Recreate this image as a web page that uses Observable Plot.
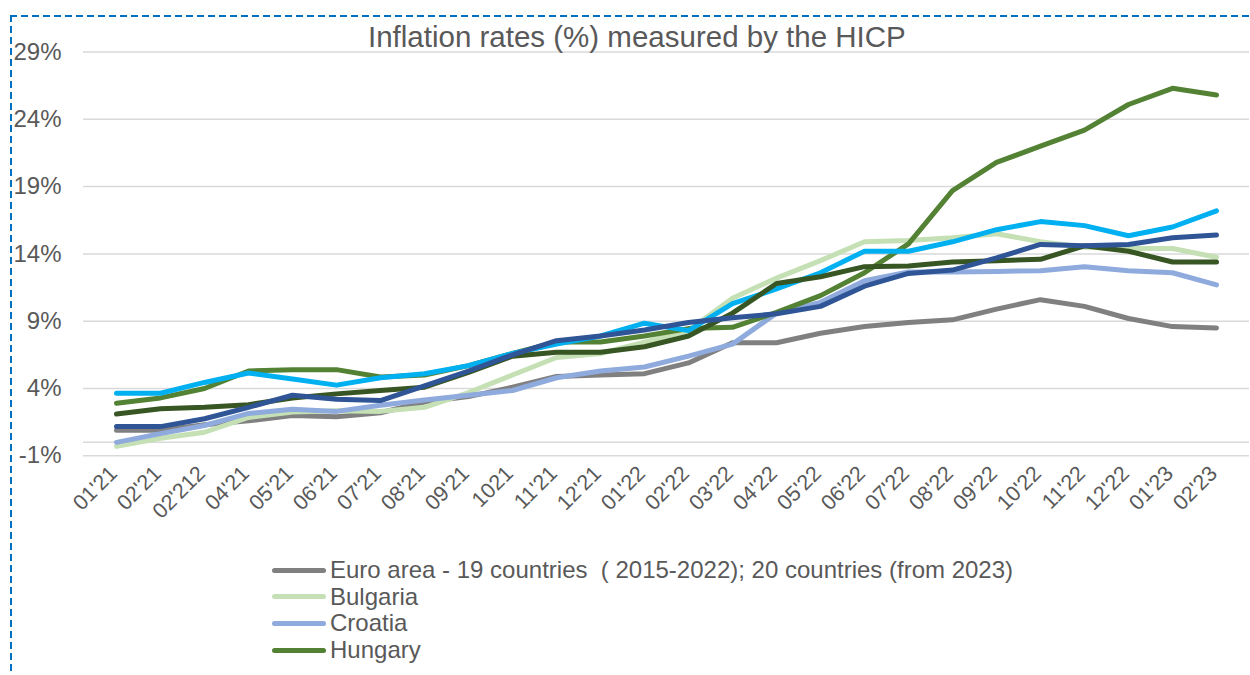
<!DOCTYPE html>
<html><head><meta charset="utf-8">
<script src="https://cdn.jsdelivr.net/npm/d3@7"></script>
<script src="https://cdn.jsdelivr.net/npm/@observablehq/plot@0.6"></script>
<style>
body{margin:0;background:#fff;font-family:"Liberation Sans",Arial,sans-serif;}
#wrap{position:relative;width:1250px;height:675px;overflow:hidden;background:#fff;}
#chart{position:absolute;left:0;top:0;}
#title{position:absolute;left:368px;top:22px;font-size:29.5px;line-height:29.5px;color:#595959;white-space:nowrap;}
#legend{position:absolute;left:272px;top:557px;color:#595959;font-size:24px;}
.row{display:flex;align-items:center;height:26.6px;white-space:pre;}
.sw{width:54px;height:5px;border-radius:3px;margin-right:4px;}
.bt{position:absolute;left:10px;top:15px;width:1240px;height:2px;background:repeating-linear-gradient(to right,#0070C0 0 7px,transparent 7px 11px);}
.bl{position:absolute;left:10px;top:15px;width:2px;height:660px;background:repeating-linear-gradient(to bottom,#0070C0 0 7px,transparent 7px 11px);}
</style></head>
<body>
<div id="wrap">
  <div id="chart"></div>
  <div id="title">Inflation rates (%) measured by the HICP</div>
  <div id="legend"></div>
  <div class="bt"></div><div class="bl"></div>
</div>
<script>
const months = ["01'21","02'21","02'212","04'21","05'21","06'21","07'21","08'21","09'21","1021","11'21","12'21","01'22","02'22","03'22","04'22","05'22","06'22","07'22","08'22","09'22","10'22","11'22","12'22","01'23","02'23"];
const euroArea = [0.9,0.9,1.3,1.6,2.0,1.9,2.2,3.0,3.4,4.1,4.9,5.0,5.1,5.9,7.4,7.4,8.1,8.6,8.9,9.1,9.9,10.6,10.1,9.2,8.6,8.5];
const bulgaria = [-0.3,0.3,0.75,1.85,2.25,2.35,2.3,2.6,3.7,5.0,6.3,6.6,7.45,8.3,10.7,12.2,13.5,14.9,15.0,15.2,15.5,14.9,14.5,14.4,14.4,13.75];
const croatia = [0.0,0.65,1.25,2.15,2.45,2.3,2.75,3.15,3.5,3.85,4.8,5.3,5.6,6.4,7.3,9.6,10.4,12.0,12.65,12.65,12.7,12.75,13.05,12.75,12.6,11.7];
const hungary = [2.9,3.3,4.0,5.3,5.4,5.4,4.85,5.0,5.7,6.6,7.45,7.45,7.9,8.45,8.55,9.65,10.9,12.6,14.75,18.7,20.8,22.0,23.2,25.1,26.3,25.8];
const poland = [3.65,3.65,4.45,5.15,4.7,4.25,4.8,5.1,5.7,6.6,7.3,7.9,8.85,8.3,10.3,11.4,12.6,14.2,14.2,14.9,15.8,16.4,16.1,15.35,16.0,17.2];
const romania = [2.1,2.5,2.6,2.8,3.3,3.6,3.85,4.1,5.2,6.4,6.7,6.7,7.1,7.9,9.6,11.8,12.3,13.05,13.1,13.4,13.5,13.6,14.6,14.2,13.4,13.4];
const seriesSeven = [1.17,1.17,1.75,2.6,3.5,3.2,3.1,4.2,5.3,6.5,7.55,7.9,8.35,8.9,9.25,9.55,10.1,11.6,12.55,12.8,13.7,14.7,14.6,14.7,15.2,15.4];

const seriesNames = ["Euro area - 19 countries  ( 2015-2022); 20 countries (from 2023)","Bulgaria","Croatia","Hungary","Poland","Romania","Series 7"];
const seriesValues = [euroArea,bulgaria,croatia,hungary,poland,romania,seriesSeven];
const seriesColors = ["#808080","#C5E0B4","#8FAADC","#548235","#00B0F0","#375623","#2F5597"];
const legendCount = 4;
const yTicks = [-1,4,9,14,19,24,29];

const rows = [];
seriesNames.forEach((name,s)=>seriesValues[s].forEach((v,i)=>rows.push({series:name,month:months[i],value:v})));

const chart = Plot.plot({
  width:1250, height:545,
  marginLeft:83, marginRight:1, marginTop:51.5, marginBottom:89.7,
  style:{fontFamily:'"Liberation Sans",Arial,sans-serif',color:"#595959",background:"transparent"},
  x:{type:"point",domain:months,padding:0.5,axis:null},
  y:{domain:[-1,29],axis:null},
  color:{domain:seriesNames,range:seriesColors},
  marks:[
    Plot.ruleY(yTicks.concat([0]),{stroke:"#D9D9D9",strokeWidth:1.5}),
    Plot.axisY({ticks:yTicks,tickFormat:d=>d+"%",tickSize:0,tickPadding:22,fontSize:24,fill:"#595959",label:null}),
    Plot.text(months,{x:d=>d,y:()=>-1,text:d=>d,rotate:-45,textAnchor:"end",lineAnchor:"middle",dx:-3,dy:14,fontSize:21.5,fill:"#595959"}),
    Plot.line(rows,{x:"month",y:"value",z:"series",stroke:"series",strokeWidth:5,strokeLinejoin:"round",strokeLinecap:"round"})
  ]
});
document.getElementById("chart").appendChild(chart);

const lg = document.getElementById("legend");
for(let s=0;s<legendCount;s++){
  const r=document.createElement("div");r.className="row";
  const sw=document.createElement("div");sw.className="sw";sw.style.background=seriesColors[s];
  const t=document.createElement("span");t.textContent=seriesNames[s];
  r.appendChild(sw);r.appendChild(t);lg.appendChild(r);
}
</script>
</body></html>
